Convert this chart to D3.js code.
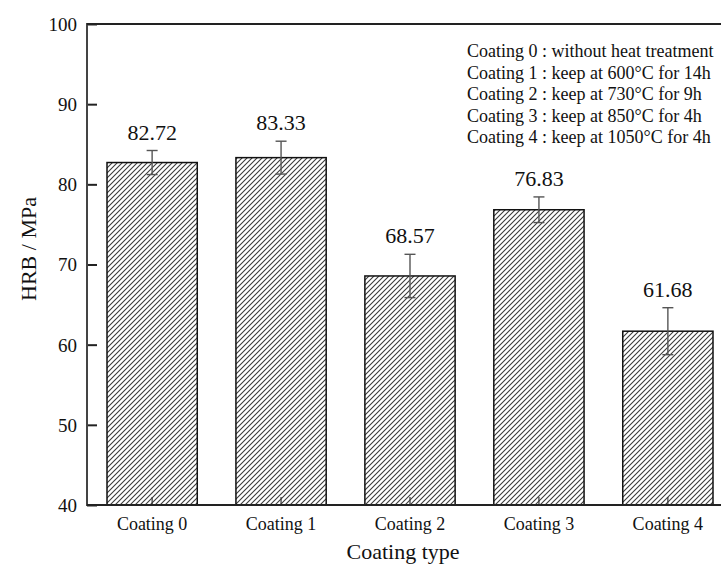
<!DOCTYPE html>
<html><head><meta charset="utf-8">
<script src="https://cdn.jsdelivr.net/npm/d3@7/dist/d3.min.js"></script>
<style>body{margin:0;background:#fff}svg{display:block}text{font-family:"Liberation Serif","Times New Roman",serif;fill:#111}</style>
</head><body>
<script>
const categories = ["Coating 0","Coating 1","Coating 2","Coating 3","Coating 4"];
const values = [82.72, 83.33, 68.57, 76.83, 61.68];
const errors = [1.5, 2.05, 2.7, 1.6, 2.93];
const valueLabels = ["82.72","83.33","68.57","76.83","61.68"];
const yTicks = [40,50,60,70,80,90,100];
const legendLines = [
  "Coating 0 : without heat treatment",
  "Coating 1 : keep at 600°C for 14h",
  "Coating 2 : keep at 730°C for 9h",
  "Coating 3 : keep at 850°C for 4h",
  "Coating 4 : keep at 1050°C for 4h"
];

(function(){
const W = 721, H = 566;
const mLeft = 87, mRight = 721, mTop = 24, mBottom = 505;
const svg = d3.select("body").append("svg").attr("width", W).attr("height", H);

const defs = svg.append("defs");
const pat = defs.append("pattern").attr("id","hatch").attr("patternUnits","userSpaceOnUse")
  .attr("width",5).attr("height",5);
pat.append("path").attr("d","M0,5 L5,0 M-1,1 L1,-1 M4,6 L6,4")
  .attr("stroke","#3a3a3a").attr("stroke-width",1.1);

const x = d3.scaleBand().domain(categories).range([107, 713]).paddingInner(0.3).paddingOuter(0);
const y = d3.scaleLinear().domain([40,100]).range([mBottom, mTop]);

// bars
svg.selectAll("rect.bar").data(values).join("rect")
  .attr("x",(d,i)=>x(categories[i]))
  .attr("y",d=>y(d))
  .attr("width",x.bandwidth())
  .attr("height",d=>y(40)-y(d))
  .attr("fill","url(#hatch)")
  .attr("stroke","#111").attr("stroke-width",1.5);

// error bars
const eb = svg.append("g").attr("stroke","#555").attr("stroke-width",1.4).attr("fill","none");
values.forEach((v,i)=>{
  const cx = x(categories[i]) + x.bandwidth()/2;
  const y1 = y(v+errors[i]), y2 = y(v-errors[i]);
  eb.append("line").attr("x1",cx).attr("x2",cx).attr("y1",y1).attr("y2",y2);
  eb.append("line").attr("x1",cx-5.5).attr("x2",cx+5.5).attr("y1",y1).attr("y2",y1);
  eb.append("line").attr("x1",cx-5.5).attr("x2",cx+5.5).attr("y1",y2).attr("y2",y2);
  svg.append("text").attr("x",cx).attr("y",y1-11).attr("text-anchor","middle")
    .attr("font-size",22).text(valueLabels[i]);
});

// y axis
const yAxis = d3.axisLeft(y).tickValues(yTicks).tickSize(-10).tickPadding(10).tickFormat(d3.format("d"));
const gy = svg.append("g").attr("transform",`translate(${mLeft},0)`).call(yAxis);
gy.select(".domain").remove();
gy.selectAll(".tick line").attr("stroke","#222").attr("stroke-width",2);
gy.selectAll(".tick text").attr("font-size",19).attr("font-family","Liberation Serif, serif").attr("fill","#111").attr("dy","0.34em");
svg.append("line").attr("x1",mLeft).attr("x2",mLeft).attr("y1",mTop-1).attr("y2",mBottom+1)
  .attr("stroke","#444").attr("stroke-width",2);

// x axis
const xAxis = d3.axisBottom(x).tickSize(-8).tickPadding(12);
const gx = svg.append("g").attr("transform",`translate(0,${mBottom})`).call(xAxis);
gx.select(".domain").remove();
gx.selectAll(".tick line").attr("stroke","#333").attr("stroke-width",1.2);
gx.selectAll(".tick text").attr("font-size",18).attr("font-family","Liberation Serif, serif").attr("fill","#111").attr("dy","0.71em");
svg.append("line").attr("x1",mLeft).attr("x2",mRight).attr("y1",mBottom).attr("y2",mBottom)
  .attr("stroke","#222").attr("stroke-width",2);
svg.append("line").attr("x1",mLeft).attr("x2",mRight).attr("y1",mTop).attr("y2",mTop)
  .attr("stroke","#222").attr("stroke-width",2);

// axis titles
svg.append("text").attr("x",403).attr("y",559).attr("text-anchor","middle").attr("font-size",22).text("Coating type");
svg.append("text").attr("transform","translate(36,249) rotate(-90)").attr("text-anchor","middle").attr("font-size",22).text("HRB / MPa");

// legend text
svg.append("g").selectAll("text").data(legendLines).join("text")
  .attr("x",467).attr("y",(d,i)=>57+i*21.5).attr("font-size",18).text(d=>d);
})();
</script>
</body></html>
